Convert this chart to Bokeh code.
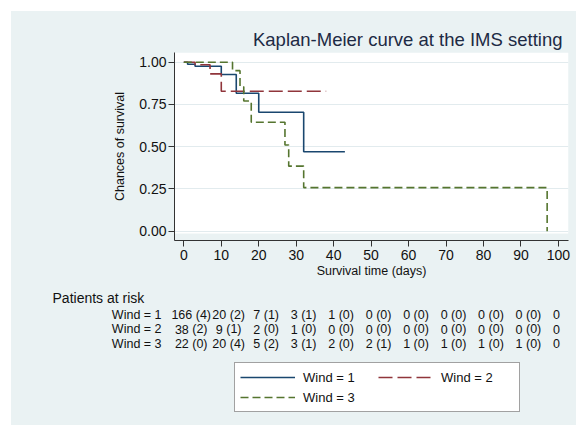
from bokeh.plotting import figure
from bokeh.layouts import column
from bokeh.models import (Range1d, FixedTicker, PrintfTickFormatter, BoxAnnotation,
                          ColumnDataSource, Legend, LegendItem)
from bokeh.embed import file_html
from bokeh.resources import INLINE
from bokeh.core.properties import value

# ---------------- data ----------------
title_text = "Kaplan-Meier curve at the IMS setting"
x_label = "Survival time (days)"
y_label = "Chances of survival"
table_title = "Patients at risk"
groups = ["Wind = 1", "Wind = 2", "Wind = 3"]

# Kaplan-Meier step curves (time in days, survival probability)
w1_time = [0, 1, 3, 10, 14, 20, 32, 43]
w1_surv = [1.0, 0.988, 0.976, 0.927, 0.816, 0.704, 0.47, 0.47]
w2_time = [0, 3, 7, 10, 38]
w2_surv = [1.0, 0.985, 0.931, 0.828, 0.828]
w3_time = [0, 13, 15, 16, 18, 27, 28, 32, 97]
w3_surv = [1.0, 0.95, 0.855, 0.77, 0.645, 0.51, 0.385, 0.258, 0.0]

# risk table
risk_times = [0, 10, 20, 30, 40, 50, 60, 70, 80, 90, 100]
w1_at_risk = [166, 20, 7, 3, 1, 0, 0, 0, 0, 0, 0]
w1_censored = [4, 2, 1, 1, 0, 0, 0, 0, 0, 0, None]
w2_at_risk = [38, 9, 2, 1, 0, 0, 0, 0, 0, 0, 0]
w2_censored = [2, 1, 0, 0, 0, 0, 0, 0, 0, 0, None]
w3_at_risk = [22, 20, 5, 3, 2, 2, 1, 1, 1, 1, 0]
w3_censored = [0, 4, 2, 1, 0, 1, 0, 0, 0, 0, None]

y_ticks = [0.0, 0.25, 0.5, 0.75, 1.0]

# ---------------- style ----------------
FONT = "Liberation Sans"
BG = "#eaf2f3"
TXT = "#111111"
colors = ["#1a476f", "#90353b", "#55752f"]
dashes = ["solid", "14 5", "8 4"]

W = 565                  # width of the whole chart
H_TOP, H_BOT = 274, 140  # plot part / risk-table part
LEFT = 163               # frame left inside the figure
PX_X = 3.747             # pixels per day
PX_Y = 169.0             # pixels per unit of survival
X0, X1 = -2.49, 102.7
Y0, Y1 = -0.055, 1.0574

# ---------------- main plot ----------------
p = figure(width=W, height=H_TOP, x_range=Range1d(X0, X1), y_range=Range1d(Y0, Y1),
           output_backend="svg", toolbar_location=None,
           min_border_left=LEFT, min_border_right=8, min_border_top=41, min_border_bottom=45,
           background_fill_color=BG, border_fill_color=BG, outline_line_color=None)
p.frame_align = False

p.title.text = title_text
p.title.align = "right"
p.title.offset = 6
p.title.standoff = 6
p.title.text_font = FONT
p.title.text_font_size = "18.5px"
p.title.text_font_style = "normal"
p.title.text_color = "#1d2a44"

# white plot region (graph region sits a little above the x axis)
p.add_layout(BoxAnnotation(bottom=-2.3 / PX_Y, fill_color="white", fill_alpha=1.0,
                           line_color=None, level="image"))

p.xgrid.visible = False
p.ygrid.ticker = FixedTicker(ticks=y_ticks)
p.ygrid.grid_line_color = "#e2ebee"
p.ygrid.grid_line_width = 1

for ax in (p.xaxis[0], p.yaxis[0]):
    ax.axis_line_color = "#333333"
    ax.major_tick_line_color = "#333333"
    ax.major_tick_out = 6
    ax.major_tick_in = 0
    ax.minor_tick_line_color = None
    ax.major_label_text_font = FONT
    ax.major_label_text_font_size = "14px"
    ax.major_label_text_color = TXT
    ax.major_label_standoff = 3
    ax.axis_label_text_font = FONT
    ax.axis_label_text_font_size = "12.5px"
    ax.axis_label_text_font_style = "normal"
    ax.axis_label_text_color = TXT

p.xaxis.ticker = FixedTicker(ticks=risk_times)
p.xaxis.axis_label = x_label
p.xaxis.axis_label_standoff = 1
p.yaxis.ticker = FixedTicker(ticks=y_ticks)
p.yaxis.formatter = PrintfTickFormatter(format="%.2f")
p.yaxis.axis_label = y_label
p.yaxis.axis_label_standoff = 9
p.yaxis.major_label_standoff = 2

curves = [(w1_time, w1_surv), (w2_time, w2_surv), (w3_time, w3_surv)]
for (t, s), c, d in zip(curves, colors, dashes):
    p.step(t, s, mode="after", line_color=c, line_width=1.6, line_dash=d)

# ---------------- risk table + legend (same x scale, full-width frame) ----------------
bx0 = X0 - LEFT / PX_X
q = figure(width=W, height=H_BOT, x_range=Range1d(bx0, bx0 + W / PX_X),
           y_range=Range1d(H_BOT, 0), output_backend="svg", toolbar_location=None,
           min_border=0, x_axis_type=None, y_axis_type=None,
           background_fill_color=BG, border_fill_color=BG, outline_line_color=None)
q.frame_align = False
q.grid.visible = False
q.extra_y_ranges = {"offscreen": Range1d(10, 11)}

def sx(screen_x):          # page pixel -> day value
    return (screen_x - 183.3) / PX_X

TOP_Q = 285                # page y where the table part starts
def sy(screen_y):
    return screen_y - TOP_Q

q.text(x=[sx(52)], y=[sy(297)], text=[table_title], text_align="left",
       text_baseline="middle", text_font=value(FONT), text_font_size=value("14px"),
       text_color=TXT)

row_y = [sy(314), sy(328.5), sy(343)]
FS = 12.5
digit_w = 0.556 * FS
space_w = 0.278 * FS

q.text(x=[sx(161)] * 3, y=row_y, text=groups, text_align="right", text_baseline="middle",
       text_font=value(FONT), text_font_size=value(f"{FS}px"), text_color=TXT)

nx, ny, nt = [], [], []
cx, cy, ct, co = [], [], [], []
for yv, ar, ce in zip(row_y, [w1_at_risk, w2_at_risk, w3_at_risk],
                      [w1_censored, w2_censored, w3_censored]):
    for t, a, c in zip(risk_times, ar, ce):
        s = str(a)
        nx.append(t); ny.append(yv); nt.append(s)
        if c is not None:
            cx.append(t); cy.append(yv); ct.append(f"({c})")
            co.append(len(s) * digit_w / 2 - 2 + space_w)

q.text(x="x", y="y", text="text", source=ColumnDataSource(dict(x=nx, y=ny, text=nt)),
       x_offset=-2, text_align="center", text_baseline="middle",
       text_font=value(FONT), text_font_size=value(f"{FS}px"), text_color=TXT)
q.text(x="x", y="y", text="text", x_offset="off",
       source=ColumnDataSource(dict(x=cx, y=cy, text=ct, off=co)),
       text_align="left", text_baseline="middle",
       text_font=value(FONT), text_font_size=value(f"{FS}px"), text_color=TXT)

# legend: the same curves, drawn on an off-screen range of the table panel
items = []
for (t, s), c, d, g in zip(curves, colors, dashes, groups):
    r = q.step(t, s, mode="after", line_color=c, line_width=1.6, line_dash=d,
               y_range_name="offscreen")
    items.append(LegendItem(label=g, renderers=[r]))
# grid is filled column by column: (Wind=1, Wind=3) | (Wind=2)
items = [items[0], items[2], items[1]]

legend = Legend(items=items, ncols=2, location=(234 - 11, 425 - 412),
                padding=5, spacing=2, margin=0,
                glyph_width=55, glyph_height=18, label_height=18, label_width=73,
                label_standoff=8, label_text_font=FONT, label_text_font_size="13px",
                label_text_color=TXT,
                border_line_color="#444444", border_line_width=1,
                background_fill_color="white", background_fill_alpha=1.0)
q.add_layout(legend, "center")

layout = column(p, q, spacing=0)
layout.margin = (11, 0, 0, 11)
layout.styles = {"background-color": BG}

open("out.html", "w").write(file_html(layout, INLINE))
